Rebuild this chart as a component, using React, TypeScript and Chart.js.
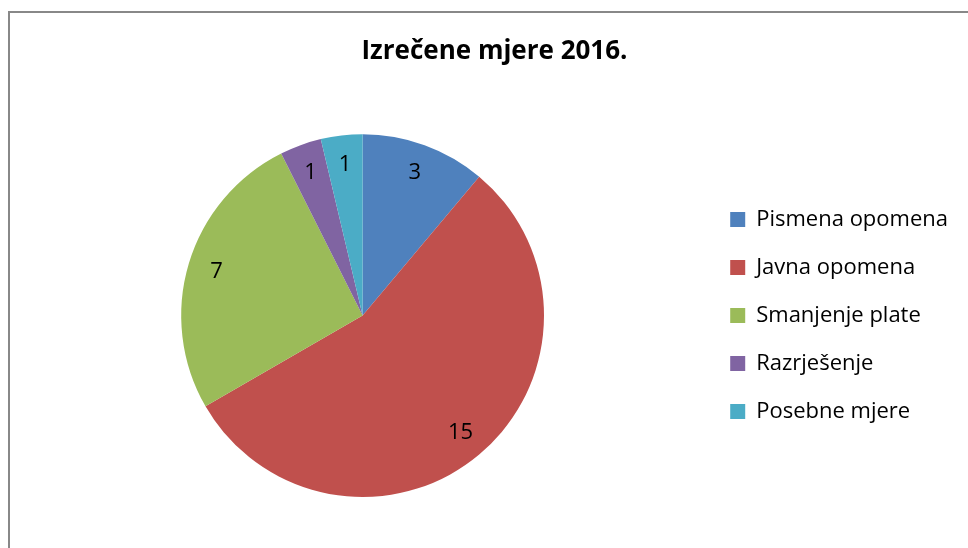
import React, { useEffect, useRef } from "react";
import { Chart, registerables } from "chart.js";

Chart.register(...registerables);

const titleText = "Izrečene mjere 2016.";
const categories = ["Pismena opomena", "Javna opomena", "Smanjenje plate", "Razrješenje", "Posebne mjere"];
const values = [3, 15, 7, 1, 1];
const colors = ["#4F81BD", "#C0504D", "#9BBB59", "#8064A2", "#4BACC6"];

const FONT = "'Open Sans', sans-serif";

const labelPlugin = {
  id: "sliceLabels",
  afterLayout(chart: any) {
    const t = chart.titleBlock;
    if (t) {
      t.left += 5;
      t.right += 5;
    }
  },
  afterDatasetsDraw(chart: any) {
    const ctx = chart.ctx;
    const meta = chart.getDatasetMeta(0);
    ctx.save();
    ctx.font = `22px ${FONT}`;
    ctx.fillStyle = "#000";
    ctx.textAlign = "center";
    ctx.textBaseline = "middle";
    meta.data.forEach((arc: any, i: number) => {
      const p = arc.getProps(["x", "y", "startAngle", "endAngle", "outerRadius"], true);
      const mid = (p.startAngle + p.endAngle) / 2;
      const r = p.outerRadius * 0.84;
      ctx.fillText(String(values[i]), p.x + Math.cos(mid) * r, p.y + Math.sin(mid) * r);
    });
    ctx.restore();
  },
};

export default function App() {
  const ref = useRef<HTMLCanvasElement | null>(null);
  useEffect(() => {
    document.body.style.overflow = "hidden";
    const chart = new Chart(ref.current!, {
      type: "pie",
      data: {
        labels: categories,
        datasets: [
          {
            data: values,
            backgroundColor: colors,
            borderWidth: 0,
          },
        ],
      },
      options: {
        responsive: false,
        animation: false,
        layout: { padding: { left: 21, right: 10, top: 0, bottom: 51 } },
        plugins: {
          title: {
            display: true,
            text: titleText,
            color: "#000",
            font: { family: FONT, size: 26, weight: "bold", lineHeight: 1.2 },
            padding: { top: 36, bottom: 67 },
          },
          legend: {
            position: "right",
            fullSize: false,
            labels: {
              color: "#000",
              font: { family: FONT, size: 22 },
              boxWidth: 15,
              boxHeight: 15,
              padding: 26,
            },
          },
          tooltip: { enabled: false },
        },
      },
      plugins: [labelPlugin],
    });
    return () => chart.destroy();
  }, []);
  return (
    <>
      <div
        style={{
          position: "fixed",
          left: 8,
          top: 11,
          right: 0,
          bottom: 0,
          borderLeft: "2px solid #888",
          borderTop: "2px solid #888",
        }}
      />
      <canvas
        ref={ref}
        width={968}
        height={548}
        style={{ position: "fixed", left: 0, top: 0, width: 968, height: 548 }}
      />
    </>
  );
}
